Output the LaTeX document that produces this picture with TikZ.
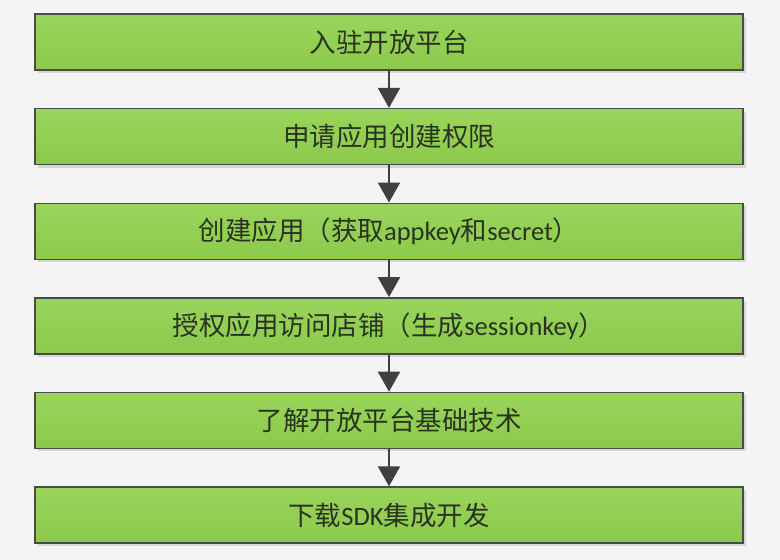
\documentclass[tikz,border=0pt]{standalone}
\usepackage{fontspec}
\setmainfont{Carlito}
\newfontfamily\cjk{Noto Sans CJK SC}
\usetikzlibrary{arrows.meta,shadows}
\definecolor{bg}{HTML}{F4F4F4}
\definecolor{gtop}{HTML}{9AD55C}
\definecolor{gbot}{HTML}{8BC94B}
\definecolor{edge}{HTML}{4A4A4A}
\definecolor{txt}{HTML}{2A3320}
\definecolor{arr}{HTML}{404040}
\begin{document}
\begin{tikzpicture}[x=1pt,y=-1pt,
  stepbox/.style={draw=edge,line width=1.4pt,minimum width=708pt,minimum height=56pt,
    top color=gtop,bottom color=gbot,inner sep=0pt,
    drop shadow={shadow xshift=3pt,shadow yshift=-3pt,fill=black,opacity=0.12},
    text=txt,font=\fontsize{26.5}{30}\selectfont},
  flow/.style={draw=arr,line width=2.2pt,-{Triangle[width=22pt,length=20pt]}}]
\fill[bg] (0,0) rectangle (780,560);
\node[stepbox] (b1) at (389,42) {\cjk 入驻开放平台};
\node[stepbox] (b2) at (389,136.6) {\cjk 申请应用创建权限};
\node[stepbox] (b3) at (389,231.2) {{\cjk 创建应用（获取}appkey{\cjk 和}secret{\cjk ）}};
\node[stepbox] (b4) at (389,325.8) {{\cjk 授权应用访问店铺（生成}sessionkey{\cjk ）}};
\node[stepbox] (b5) at (389,420.4) {\cjk 了解开放平台基础技术};
\node[stepbox] (b6) at (389,515) {{\cjk 下载}SDK{\cjk 集成开发}};
\draw[flow] (b1) -- (b2);
\draw[flow] (b2) -- (b3);
\draw[flow] (b3) -- (b4);
\draw[flow] (b4) -- (b5);
\draw[flow] (b5) -- (b6);
\end{tikzpicture}
\end{document}
